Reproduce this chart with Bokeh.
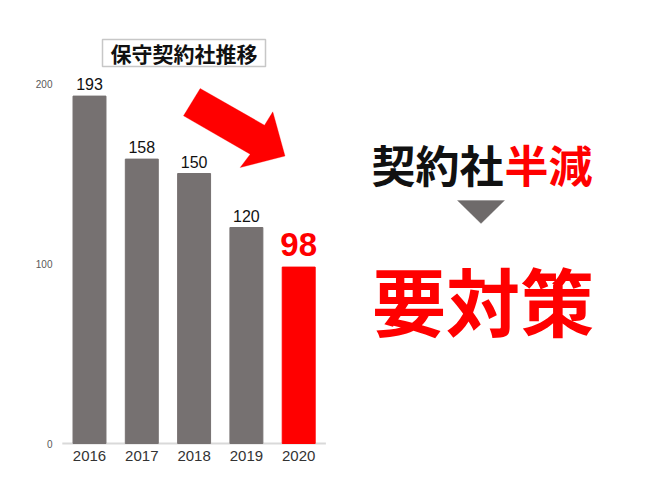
from bokeh.plotting import figure
from bokeh.models import (ColumnDataSource, FixedTicker, Label, BoxAnnotation,
                          PolyAnnotation)
from bokeh.core.properties import value
from bokeh.embed import file_html
from bokeh.resources import INLINE

# ---- data ----
years = ["2016", "2017", "2018", "2019", "2020"]
counts = [193, 158, 150, 120, 98]
bar_colors = ["#767171", "#767171", "#767171", "#767171", "#ff0000"]
y_ticks = [0, 100, 200]
chart_title = "保守契約社推移"
headline_black = "契約社"
headline_red = "半減"
conclusion = "要対策"

# ---- layout constants (pixels) ----
W, H = 670, 502
FRAME_L = 60
FRAME_B = 446            # frame bottom in page pixels
ZERO_PX = 443            # page y of value 0
FIRST_CENTER_PX = 89
PX_PER_CAT = 52.3
PX_PER_UNIT = 1.8

x0 = -(FIRST_CENTER_PX - FRAME_L) / PX_PER_CAT
x1 = x0 + (W - FRAME_L) / PX_PER_CAT
y0 = -(FRAME_B - ZERO_PX) / PX_PER_UNIT
y1 = ZERO_PX / PX_PER_UNIT


def dx(px):
    return x0 + (px - FRAME_L) / PX_PER_CAT


def dy(py):
    return (ZERO_PX - py) / PX_PER_UNIT


idx = list(range(len(years)))
src = ColumnDataSource(dict(
    x=idx, top=counts, color=bar_colors,
    label=[str(c) for c in counts],
))
grey_src = ColumnDataSource(dict(x=idx[:-1], y=counts[:-1],
                                 label=[str(c) for c in counts[:-1]]))
red_src = ColumnDataSource(dict(x=idx[-1:], y=counts[-1:],
                                label=[str(c) for c in counts[-1:]]))

p = figure(width=W, height=H, x_range=(x0, x1), y_range=(y0, y1),
           output_backend="svg", toolbar_location=None,
           min_border_left=FRAME_L, min_border_right=0,
           min_border_top=0, min_border_bottom=H - FRAME_B)
p.outline_line_color = None
p.xgrid.visible = False
p.ygrid.visible = False
p.background_fill_color = "white"
p.border_fill_color = "white"

# baseline
p.line(x=[idx[0] - 0.52, idx[-1] + 0.52], y=[0, 0], line_color="#d9d9d9",
       line_width=2)

p.vbar(x="x", top="top", bottom=0, width=0.63, color="color", source=src)

p.text(x="x", y="y", text="label", source=grey_src, text_align="center",
       text_baseline="bottom", y_offset=-6, text_font_size="16px",
       text_font=value("Liberation Sans"), text_color="#111111")
p.text(x="x", y="y", text="label", source=red_src, text_align="center",
       text_baseline="bottom", y_offset=-11, text_font_size="33px",
       text_font=value("Liberation Sans"), text_font_style="bold",
       text_color="#ff0000")

# axes
p.xaxis.ticker = FixedTicker(ticks=idx)
p.xaxis.major_label_overrides = {i: y for i, y in zip(idx, years)}
p.xaxis.axis_line_color = None
p.xaxis.major_tick_line_color = None
p.xaxis.minor_tick_line_color = None
p.xaxis.major_tick_in = 0
p.xaxis.major_tick_out = 0
p.xaxis.major_label_standoff = 4
p.xaxis.major_label_text_font = "Liberation Sans"
p.xaxis.major_label_text_font_size = "15px"
p.xaxis.major_label_text_color = "#333333"

p.yaxis.ticker = FixedTicker(ticks=y_ticks)
p.yaxis.axis_line_color = None
p.yaxis.major_tick_line_color = None
p.yaxis.minor_tick_line_color = None
p.yaxis.major_tick_in = 0
p.yaxis.major_tick_out = 0
p.yaxis.major_label_standoff = 8
p.yaxis.major_label_text_font = "Liberation Sans"
p.yaxis.major_label_text_font_size = "10px"
p.yaxis.major_label_text_color = "#595959"

# title box
p.add_layout(BoxAnnotation(left=dx(102), right=dx(265), top=dy(39),
                           bottom=dy(66), fill_color="white", fill_alpha=1,
                           line_color="#444444", line_width=1.5,
                           level="annotation"))
p.add_layout(Label(x=dx(183.5), y=dy(52.5), text=chart_title,
                   text_align="center", text_baseline="middle",
                   text_font="Noto Sans CJK JP", text_font_style="bold",
                   text_font_size="21px", text_color="#111111"))

# big red arrow
arrow_px = [(199.7, 88), (264, 124.7), (272.3, 111.3), (284.5, 155.5),
            (239.7, 167), (249.7, 153.7), (183, 115.3)]
p.add_layout(PolyAnnotation(xs=[dx(a) for a, b in arrow_px],
                            ys=[dy(b) for a, b in arrow_px],
                            fill_color="#ff0000", fill_alpha=1,
                            line_color="#ff0000", line_width=1))

# headline
p.add_layout(Label(x=dx(371), y=dy(163), text=headline_black,
                   text_align="left", text_baseline="middle",
                   text_font="Noto Sans CJK JP", text_font_style="bold",
                   text_font_size="44px", text_color="#111111"))
p.add_layout(Label(x=dx(504), y=dy(163), text=headline_red,
                   text_align="left", text_baseline="middle",
                   text_font="Noto Sans CJK JP", text_font_style="bold",
                   text_font_size="44px", text_color="#ff0000"))

# down triangle
tri_px = [(457, 200), (504, 200), (480.5, 223)]
p.add_layout(PolyAnnotation(xs=[dx(a) for a, b in tri_px],
                            ys=[dy(b) for a, b in tri_px],
                            fill_color="#6e6a6a", fill_alpha=1,
                            line_color="#6e6a6a", line_width=1))

# conclusion
p.add_layout(Label(x=dx(482.5), y=dy(298), text=conclusion,
                   text_align="center", text_baseline="middle",
                   text_font="Noto Sans CJK JP", text_font_style="bold",
                   text_font_size="74px", text_color="#ff0000"))

open("out.html", "w").write(file_html(p, INLINE))
